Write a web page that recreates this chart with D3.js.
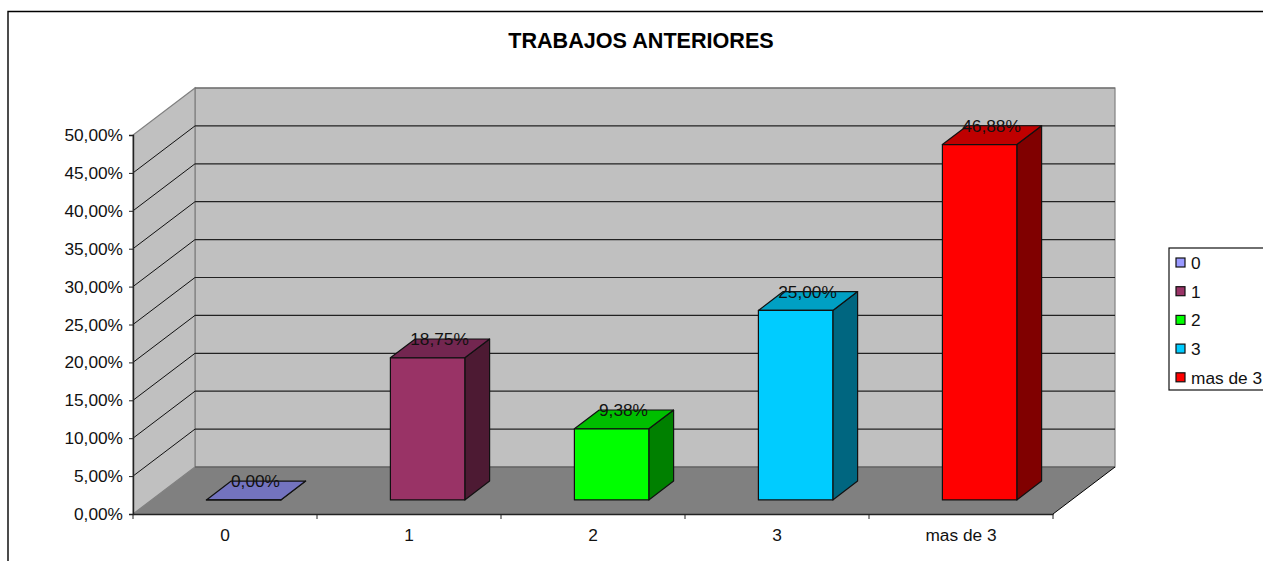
<!DOCTYPE html>
<html>
<head>
<meta charset="utf-8">
<script src="https://cdn.jsdelivr.net/npm/d3@7"></script>
<style>
  html, body { margin: 0; padding: 0; background: #fff; overflow: hidden; }
  text { font-family: "Liberation Sans", Arial, sans-serif; fill: #111; }
</style>
</head>
<body>
<div id="graph"></div>
<script>
(function(){
	"use strict";

	var titleText = "TRABAJOS ANTERIORES";
	var categories = ["0", "1", "2", "3", "mas de 3"];
	var values = [0, 18.75, 9.38, 25, 46.88];
	var valueLabels = ["0,00%", "18,75%", "9,38%", "25,00%", "46,88%"];
	var yTicks = [0, 5, 10, 15, 20, 25, 30, 35, 40, 45, 50];
	var frontColors = ["#7373bf", "#993366", "#00ff00", "#00ccff", "#ff0000"];
	var topColors = ["#7373bf", "#732650", "#00bf00", "#00a0c4", "#bf0000"];
	var sideColors = ["#4d4d80", "#4d1a33", "#008000", "#006680", "#800000"];
	var legendColors = ["#9999ff", "#993366", "#00ff00", "#00ccff", "#ff0000"];

	var width = 1263, height = 561;
	var plot = {left: 133, right: 1053, top: 135, bottom: 514};
	var depth = {x: 62, y: -47}; //how far the back wall sits from the front of the box
	var fontSize = 17.3;

	var svg = d3.select("#graph").append("svg")
		.attr("width", width)
		.attr("height", height)
		.style("display", "block");

	//the chart frame, right and bottom sides run off the page
	svg.append("path")
		.attr("d", "M8 561V11.5H1263")
		.attr("fill", "none")
		.attr("stroke", "#000")
		.attr("stroke-width", 1.4);

	var x = d3.scaleBand()
		.domain(categories)
		.range([plot.left, plot.right]);

	var y = d3.scaleLinear()
		.domain([0, 50])
		.range([plot.bottom, plot.top]);

	//0 is the front of the box and 1 the back wall
	var dx = d3.scaleLinear().domain([0, 1]).range([0, depth.x]);
	var dy = d3.scaleLinear().domain([0, 1]).range([0, depth.y]);

	function poly(points) {
		return "M" + points.map(function(p) { return p.join(","); }).join("L") + "Z";
	}

	//back wall, side wall and floor
	svg.append("rect")
		.attr("x", plot.left + depth.x)
		.attr("y", plot.top + depth.y)
		.attr("width", plot.right - plot.left)
		.attr("height", plot.bottom - plot.top)
		.attr("fill", "#c0c0c0")
		.attr("stroke", "#808080")
		.attr("stroke-width", 1.2);

	svg.append("path")
		.attr("d", poly([
			[plot.left, plot.bottom],
			[plot.left, plot.top],
			[plot.left + depth.x, plot.top + depth.y],
			[plot.left + depth.x, plot.bottom + depth.y]
		]))
		.attr("fill", "#c0c0c0")
		.attr("stroke", "#808080")
		.attr("stroke-width", 1.2);

	svg.append("line")
		.attr("x1", plot.left + depth.x)
		.attr("x2", plot.right + depth.x)
		.attr("y1", plot.top + depth.y)
		.attr("y2", plot.top + depth.y)
		.attr("stroke", "#666")
		.attr("stroke-width", 1.2);

	svg.append("path")
		.attr("d", poly([
			[plot.left, plot.bottom],
			[plot.right, plot.bottom],
			[plot.right + depth.x, plot.bottom + depth.y],
			[plot.left + depth.x, plot.bottom + depth.y]
		]))
		.attr("fill", "#808080");

	svg.append("line")
		.attr("x1", plot.left + depth.x)
		.attr("x2", plot.right + depth.x)
		.attr("y1", plot.bottom + depth.y)
		.attr("y2", plot.bottom + depth.y)
		.attr("stroke", "#555")
		.attr("stroke-width", 1);

	svg.append("line")
		.attr("x1", plot.right)
		.attr("x2", plot.right + depth.x)
		.attr("y1", plot.bottom)
		.attr("y2", plot.bottom + depth.y)
		.attr("stroke", "#000")
		.attr("stroke-width", 1);

	//gridlines, the ones between the top and the floor only
	var grid = yTicks.filter(function(d) { return d > 0 && d < 50; });

	svg.selectAll(".grid-back")
		.data(grid)
		.enter().append("line")
			.attr("class", "grid-back")
			.attr("x1", plot.left + depth.x)
			.attr("x2", plot.right + depth.x)
			.attr("y1", function(d) { return y(d) + depth.y; })
			.attr("y2", function(d) { return y(d) + depth.y; })
			.attr("stroke", "#222")
			.attr("stroke-width", 1.2);

	svg.selectAll(".grid-side")
		.data(grid)
		.enter().append("line")
			.attr("class", "grid-side")
			.attr("x1", plot.left)
			.attr("x2", plot.left + depth.x)
			.attr("y1", function(d) { return y(d); })
			.attr("y2", function(d) { return y(d) + depth.y; })
			.attr("stroke", "#111")
			.attr("stroke-width", 1);

	//the bars stand in the middle of the floor depth
	var barFront = 0.3, barBack = 0.7;
	var barPad = 54.8;

	var bars = svg.selectAll(".bar")
		.data(values)
		.enter().append("g")
			.attr("class", "bar");

	function barLeft(i) { return x(categories[i]) + barPad + dx(barFront); }
	function barRight(i) { return x(categories[i]) + x.bandwidth() - barPad + dx(barFront); }
	function baseY() { return plot.bottom + dy(barFront); }
	function topY(d) { return y(d) + dy(barFront); }
	var skewX = dx(barBack - barFront), skewY = dy(barBack - barFront);

	bars.append("path")
		.attr("d", function(d, i) {
			return poly([
				[barRight(i), baseY()],
				[barRight(i) + skewX, baseY() + skewY],
				[barRight(i) + skewX, topY(d) + skewY],
				[barRight(i), topY(d)]
			]);
		})
		.attr("fill", function(d, i) { return sideColors[i]; })
		.attr("stroke", "#111")
		.attr("stroke-width", 1.2)
		.attr("stroke-linejoin", "round");

	bars.append("path")
		.attr("d", function(d, i) {
			return poly([
				[barLeft(i), topY(d)],
				[barRight(i), topY(d)],
				[barRight(i) + skewX, topY(d) + skewY],
				[barLeft(i) + skewX, topY(d) + skewY]
			]);
		})
		.attr("fill", function(d, i) { return topColors[i]; })
		.attr("stroke", "#111")
		.attr("stroke-width", 1.2)
		.attr("stroke-linejoin", "round");

	bars.append("path")
		.attr("d", function(d, i) {
			return poly([
				[barLeft(i), baseY()],
				[barRight(i), baseY()],
				[barRight(i), topY(d)],
				[barLeft(i), topY(d)]
			]);
		})
		.attr("fill", function(d, i) { return frontColors[i]; })
		.attr("stroke", "#111")
		.attr("stroke-width", 1.2)
		.attr("stroke-linejoin", "round");

	bars.append("text")
		.attr("x", function(d, i) { return (barLeft(i) + barRight(i) + skewX) / 2 - 0.5; })
		.attr("y", function(d) { return topY(d) + skewY + 6; })
		.attr("text-anchor", "middle")
		.attr("font-size", fontSize)
		.style("fill", "#111")
		.text(function(d, i) { return valueLabels[i]; });

	//axes
	var axisLeft = svg.append("g")
		.attr("transform", "translate(" + plot.left + ",0)")
		.call(d3.axisLeft(y)
			.tickValues(yTicks)
			.tickSize(4)
			.tickPadding(6)
			.tickFormat(function(d) { return d3.format(".2f")(d).replace(".", ",") + "%"; }));

	var axisBottom = svg.append("g")
		.attr("transform", "translate(0," + plot.bottom + ")")
		.call(d3.axisBottom(x)
			.tickSize(0)
			.tickPadding(15));

	//category ticks sit on the band edges, not at their centres
	var edges = categories.map(function(d) { return x(d); }).concat([plot.right]);
	axisBottom.selectAll(".edge")
		.data(edges)
		.enter().append("line")
			.attr("class", "edge")
			.attr("x1", function(d) { return d; })
			.attr("x2", function(d) { return d; })
			.attr("y1", 0)
			.attr("y2", 5)
			.attr("stroke", "#222");

	[axisLeft, axisBottom].forEach(function(a) {
		a.selectAll(".domain").attr("stroke", "#222").attr("stroke-width", 1.4);
		a.selectAll(".tick line").attr("stroke", "#222");
		a.selectAll("text").attr("font-size", fontSize).attr("font-family", null);
	});

	svg.append("text")
		.attr("x", 641)
		.attr("y", 48)
		.attr("text-anchor", "middle")
		.attr("font-size", 21.6)
		.attr("font-weight", "bold")
		.style("fill", "#000")
		.text(titleText);

	//legend, also cut off by the right side of the page
	var legend = svg.append("g");

	legend.append("rect")
		.attr("x", 1169)
		.attr("y", 248)
		.attr("width", 110)
		.attr("height", 142)
		.attr("fill", "#fff")
		.attr("stroke", "#111")
		.attr("stroke-width", 1.2);

	var rows = legend.selectAll(".row")
		.data(categories)
		.enter().append("g")
			.attr("class", "row")
			.attr("transform", function(d, i) { return "translate(1176," + (263 + i * 28.7) + ")"; });

	rows.append("rect")
		.attr("y", -5)
		.attr("width", 9)
		.attr("height", 9)
		.attr("fill", function(d, i) { return legendColors[i]; })
		.attr("stroke", "#111")
		.attr("stroke-width", 1.2);

	rows.append("text")
		.attr("x", 15)
		.attr("y", 6)
		.attr("font-size", fontSize)
		.text(function(d) { return d; });

})();
</script>
</body>
</html>
